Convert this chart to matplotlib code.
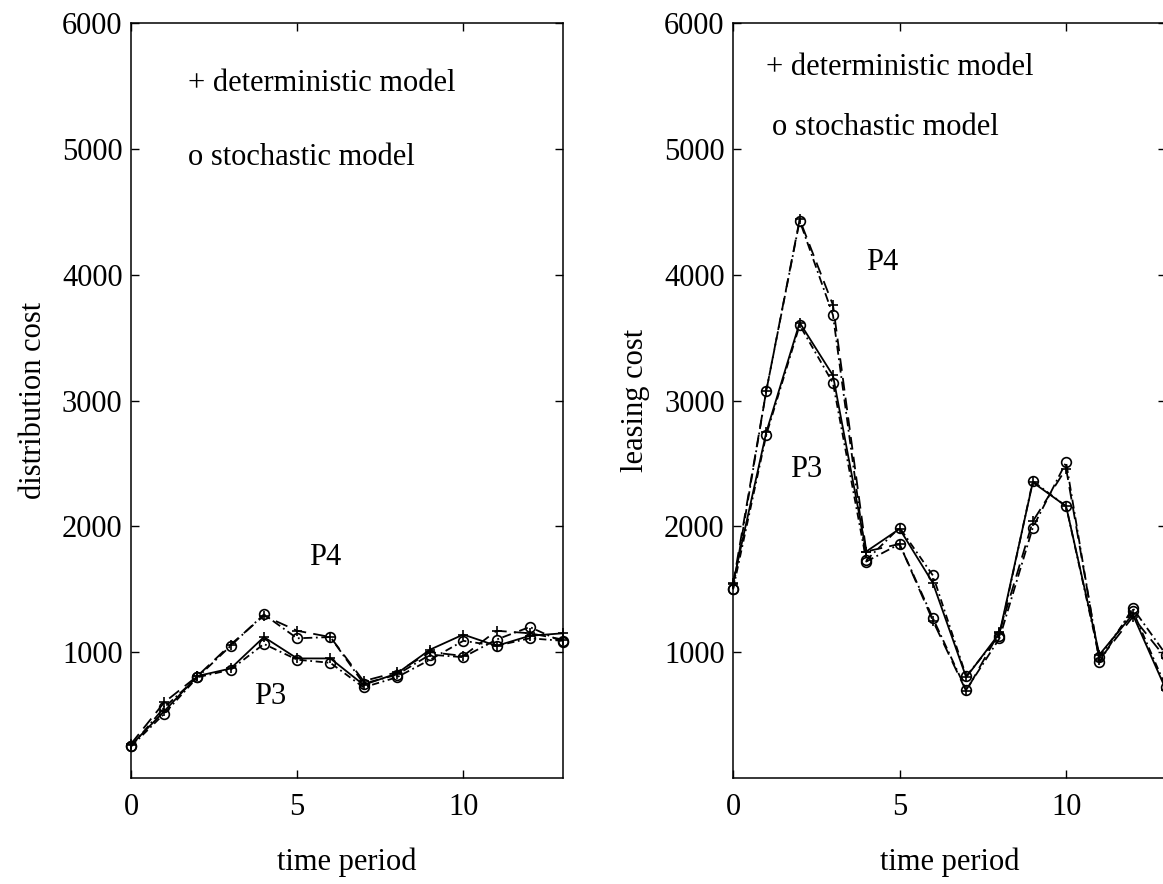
import matplotlib
matplotlib.use("Agg")
import matplotlib.pyplot as plt

plt.rcParams['font.family'] = ['Liberation Serif', 'DejaVu Serif']

periodos = list(range(14))

# costo de distribucion (panel izquierdo)
dist_p3_det = [260, 530, 810, 870, 1120, 950, 950, 740, 830, 1020, 1140, 1050, 1130, 1150]
dist_p3_sto = [250, 510, 800, 860, 1065, 940, 915, 720, 800, 940, 1090, 1050, 1110, 1090]
dist_p4_det = [270, 600, 810, 1060, 1290, 1170, 1120, 770, 840, 1000, 970, 1170, 1150, 1100]
dist_p4_sto = [250, 560, 800, 1050, 1300, 1110, 1120, 750, 820, 980, 960, 1100, 1200, 1080]

# costo de leasing (panel derecho)
leas_p3_det = [1550, 2750, 3620, 3200, 1800, 1980, 1550, 800, 1150, 2350, 2160, 980, 1300, 700]
leas_p3_sto = [1500, 2730, 3600, 3140, 1730, 1990, 1610, 810, 1130, 2360, 2160, 960, 1330, 720]
leas_p4_det = [1540, 3080, 4440, 3760, 1800, 1860, 1250, 690, 1160, 2040, 2460, 940, 1280, 950]
leas_p4_sto = [1500, 3080, 4430, 3680, 1720, 1860, 1270, 700, 1110, 1990, 2510, 920, 1350, 980]

y_ticks = [1000, 2000, 3000, 4000, 5000, 6000]
x_ticks = [0, 5, 10]

fs = 22

fig = plt.figure(figsize=(11.63, 8.84), dpi=100)
ax1 = fig.add_axes([0.1126, 0.1200, 0.3715, 0.8537])
ax2 = fig.add_axes([0.6303, 0.1200, 0.3723, 0.8537])

def dibujar(ax, p3d, p3s, p4d, p4s):
    kw = dict(color='black', lw=1.3, ms=7, mew=1.2, clip_on=False)
    ax.plot(periodos, p3d, linestyle='-', marker='+', **kw)
    ax.plot(periodos, p3s, linestyle=(0, (4, 2, 1, 2)), marker='o', mfc='none', **kw)
    ax.plot(periodos, p4d, linestyle=(0, (7, 4)), marker='+', **kw)
    ax.plot(periodos, p4s, linestyle=(0, (5, 2, 1, 2)), marker='o', mfc='none', **kw)
    ax.set_xlim(0, 13)
    ax.set_ylim(0, 6000)
    ax.set_xticks(x_ticks)
    ax.set_yticks(y_ticks)
    ax.tick_params(direction='in', length=6, width=1, top=True, right=True,
                   labelsize=fs)
    ax.tick_params(axis='x', pad=11)
    ax.tick_params(axis='y', pad=6)
    for s in ax.spines.values():
        s.set_linewidth(1.1)
    ax.set_xlabel('time period', fontsize=fs, labelpad=18)

dibujar(ax1, dist_p3_det, dist_p3_sto, dist_p4_det, dist_p4_sto)
ax1.set_ylabel('distribution cost', fontsize=fs, labelpad=10)
ax1.text(1.72, 5520, '+ deterministic model', fontsize=fs, va='center')
ax1.text(1.72, 4930, 'o stochastic model', fontsize=fs, va='center')
ax1.text(5.85, 1755, 'P4', fontsize=fs, ha='center', va='center')
ax1.text(4.2, 650, 'P3', fontsize=fs, ha='center', va='center')

dibujar(ax2, leas_p3_det, leas_p3_sto, leas_p4_det, leas_p4_sto)
ax2.set_ylabel('leasing cost', fontsize=fs, labelpad=10)
ax2.text(1.0, 5650, '+ deterministic model', fontsize=fs, va='center')
ax2.text(1.17, 5170, 'o stochastic model', fontsize=fs, va='center')
ax2.text(4.47, 4100, 'P4', fontsize=fs, ha='center', va='center')
ax2.text(2.2, 2450, 'P3', fontsize=fs, ha='center', va='center')

fig.savefig('out.png', dpi=100)
